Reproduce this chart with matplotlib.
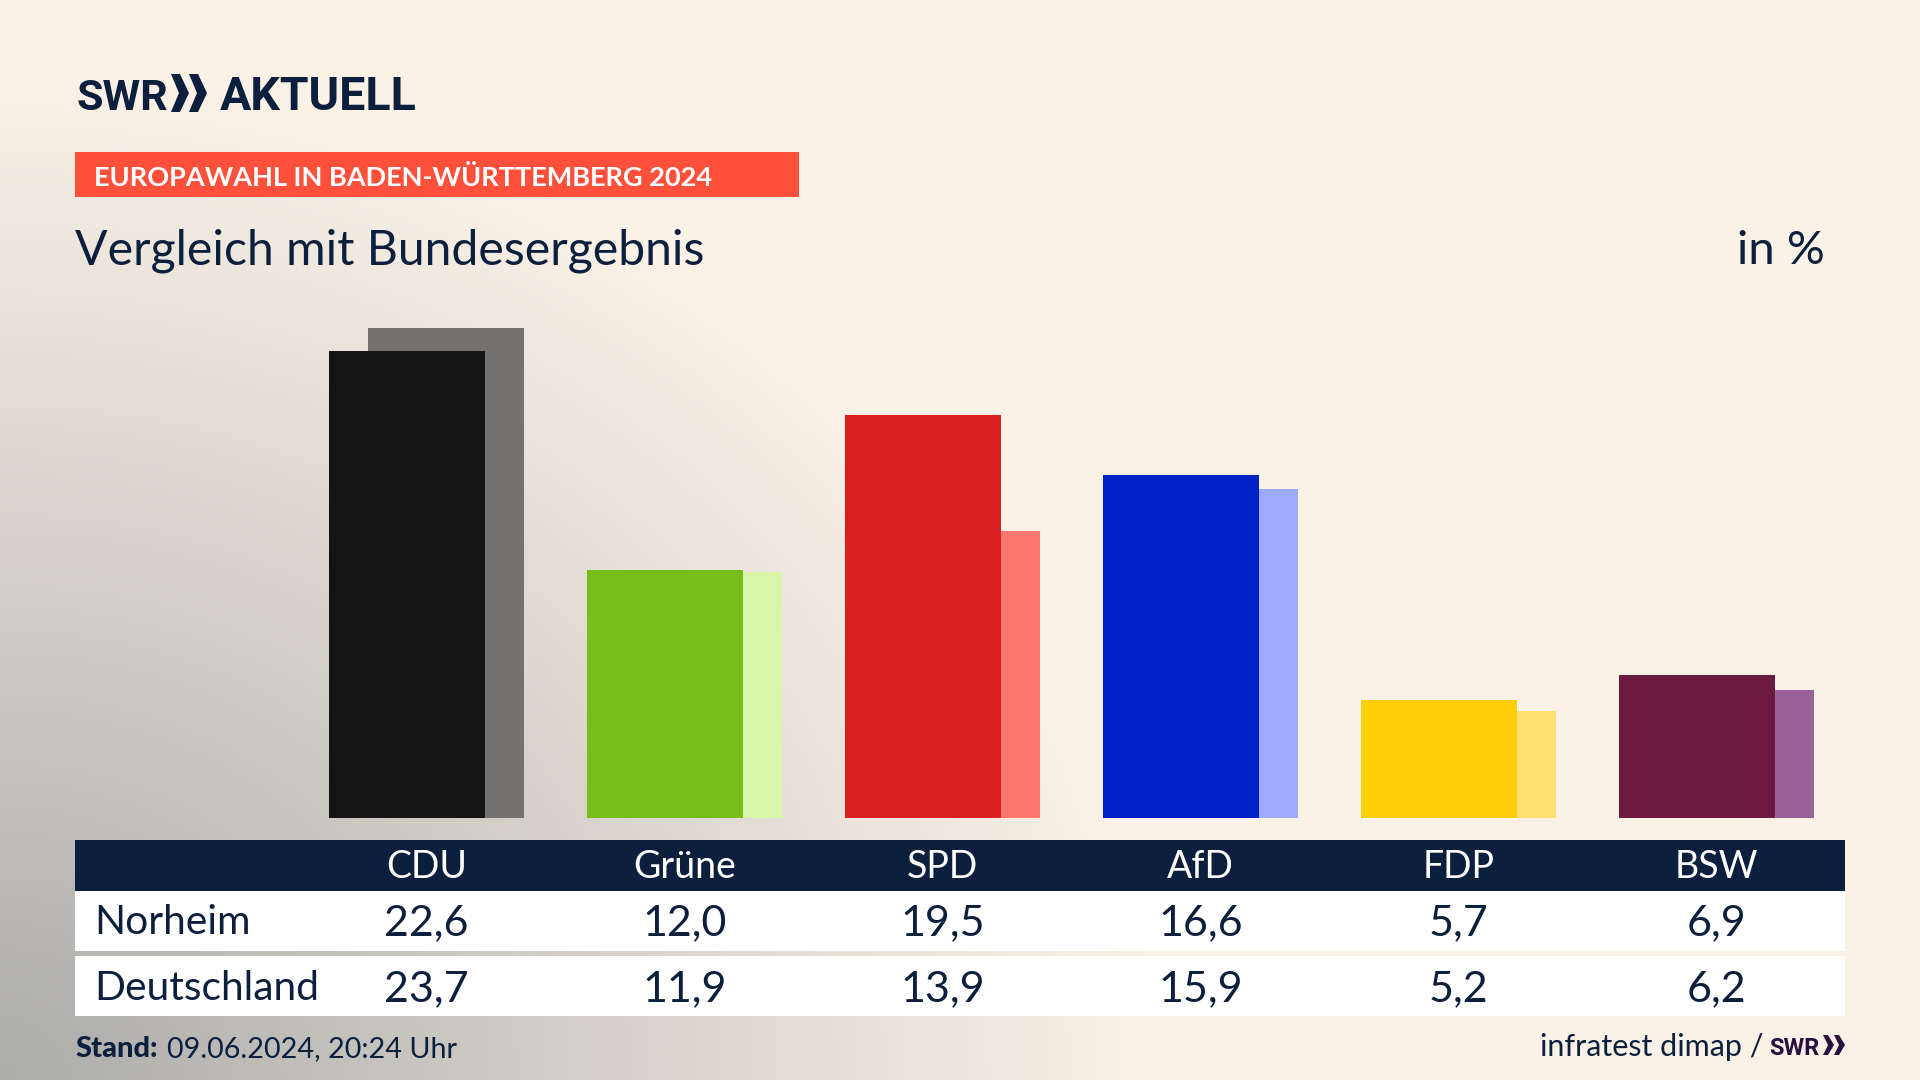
import matplotlib
matplotlib.use("Agg")
import matplotlib.pyplot as plt
import numpy as np
from matplotlib.patches import Rectangle, Polygon

parties = ["CDU", "Grüne", "SPD", "AfD", "FDP", "BSW"]
norheim = [22.6, 12.0, 19.5, 16.6, 5.7, 6.9]
deutschland = [23.7, 11.9, 13.9, 15.9, 5.2, 6.2]
front_colors = ["#141414", "#78BE1A", "#D9201F", "#0021C8", "#FFCE0A", "#6C1A40"]
back_colors = ["#737270", "#D8F5A8", "#FF7570", "#9DABFF", "#FFE070", "#9B6098"]

navy = "#0C1F3D"
plt.rcParams["font.family"] = ["Lato", "DejaVu Sans"]

fig = plt.figure(figsize=(19.2, 10.8), dpi=100)

# hintergrund mit grauem verlauf von unten links
bg = fig.add_axes([0, 0, 1, 1])
yy, xx = np.mgrid[0:1080:270j, 0:1920:480j]
t = np.clip(np.sqrt((xx / 1150) ** 2 + ((1080 - yy) / 1000) ** 2), 0, 1)
cream = np.array([250, 242, 231]) / 255
gray = np.array([172, 172, 170]) / 255
img = gray + (cream - gray) * t[..., None]
bg.imshow(img, extent=[0, 1920, 1080, 0], aspect="auto", interpolation="bilinear")
bg.set_xlim(0, 1920)
bg.set_ylim(1080, 0)
bg.axis("off")

# balken: 258 px pro partei, 20.67 px pro prozentpunkt
ax = fig.add_axes([0, (1080 - 818) / 1080, 1, 500 / 1080])
ax.patch.set_alpha(0)
ax.set_xlim(-426.5 / 258, (1920 - 426.5) / 258)
ax.set_ylim(0, 500 / 20.67)
ax.axis("off")
x = np.arange(len(parties))
ax.bar(x + 0.0756, deutschland, width=0.607, color=back_colors, zorder=1)
ax.bar(x - 0.0756, norheim, width=0.607, color=front_colors, zorder=2)

# alles andere in pixelkoordinaten
ov = fig.add_axes([0, 0, 1, 1])
ov.patch.set_alpha(0)
ov.set_xlim(0, 1920)
ov.set_ylim(1080, 0)
ov.axis("off")

ov.text(76, 110, "SWR", fontsize=31, fontweight="bold", family="Roboto", color=navy, va="baseline")
ov.text(220, 110, "AKTUELL", fontsize=33.5, fontweight="bold", family="Roboto", color=navy, va="baseline")
for x0 in (171, 189):
    ov.add_patch(Polygon([[x0, 74], [x0 + 9, 74], [x0 + 18, 93], [x0 + 9, 112], [x0, 112], [x0 + 8, 93]], color=navy, lw=0))

ov.add_patch(Rectangle((75, 152), 724, 45, color="#FF503C", lw=0))
ov.text(94, 177, "EUROPAWAHL IN BADEN-WÜRTTEMBERG 2024", fontsize=19.5, fontweight="bold", color="white", va="center")
ov.text(75, 251, "Vergleich mit Bundesergebnis", fontsize=34.7, color=navy, va="center")
ov.text(1825, 251, "in %", fontsize=34, color=navy, va="center", ha="right")

# tabelle
ov.add_patch(Rectangle((75, 840), 1770, 51, color=navy, lw=0))
ov.add_patch(Rectangle((75, 891), 1770, 60, color="white", lw=0))
ov.add_patch(Rectangle((75, 956), 1770, 60, color="white", lw=0))
ov.text(94, 923, "Norheim", fontsize=29.3, color=navy, va="center")
ov.text(94, 988, "Deutschland", fontsize=29.3, color=navy, va="center")
for i, name in enumerate(parties):
    cx = 426.5 + 258 * i
    ov.text(cx, 867, name, fontsize=27, color="white", ha="center", va="center")
    ov.text(cx, 923, f"{norheim[i]:.1f}".replace(".", ","), fontsize=31, color=navy, ha="center", va="center")
    ov.text(cx, 989, f"{deutschland[i]:.1f}".replace(".", ","), fontsize=31, color=navy, ha="center", va="center")

# fusszeile
ov.text(75, 1049, "Stand:", fontsize=21, fontweight="black", color=navy, va="center")
ov.text(167, 1049, "09.06.2024, 20:24 Uhr", fontsize=20.7, color=navy, va="center")
ov.text(1763, 1047, "infratest dimap /", fontsize=22, color=navy, va="center", ha="right")
ov.text(1769, 1055, "SWR", fontsize=17, fontweight="bold", family="Roboto", color="#2A0F3F", va="baseline")
for x0 in (1823, 1834):
    ov.add_patch(Polygon([[x0, 1035], [x0 + 5, 1035], [x0 + 11, 1045], [x0 + 5, 1055], [x0, 1055], [x0 + 5, 1045]], color="#2A0F3F", lw=0))

fig.savefig("out.png", dpi=100)
